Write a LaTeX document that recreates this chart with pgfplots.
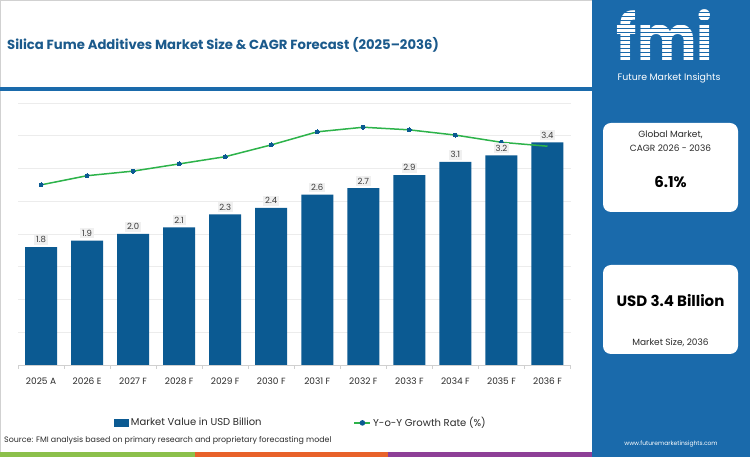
\documentclass[border=0pt]{standalone}
\usepackage{pgfplots}
\pgfplotsset{compat=1.18}
\usepackage{fontspec}
\setmainfont{Poppins}
\definecolor{barblue}{HTML}{0B5A92}
\definecolor{panelblue}{HTML}{1A6AAB}
\definecolor{titleblue}{HTML}{1B5A8C}
\definecolor{lgreen}{HTML}{2DB34A}
\definecolor{labelbg}{HTML}{F0F0F0}
\definecolor{labelgray}{HTML}{3A3A3A}
\definecolor{textgray}{HTML}{2B2B2B}
\definecolor{gridgray}{HTML}{ECECEC}
\definecolor{axisgray}{HTML}{D0D0D0}
\definecolor{sgreen}{HTML}{8CC04B}
\definecolor{sorange}{HTML}{E8622A}
\definecolor{spurple}{HTML}{8E3F97}
\pgfplotstableread{
x val grow
0 1.8 2.75
1 1.9 2.89
2 2.0 2.96
3 2.1 3.07
4 2.3 3.18
5 2.4 3.36
6 2.6 3.56
7 2.7 3.63
8 2.9 3.59
9 3.1 3.51
10 3.2 3.40
11 3.4 3.34
}\datatable
\begin{document}
\begin{tikzpicture}
\path[use as bounding box] (0,0) rectangle (750pt,457pt);
\fill[white] (0,0) rectangle (750pt,457pt);
\draw[black!18, line width=1pt] (0.5pt,0) -- (0.5pt,456.5pt) -- (592pt,456.5pt);
% right panel
\fill[panelblue] (592pt,0) rectangle (750pt,457pt);
% title rule
\fill[panelblue] (0,366pt) rectangle (592pt,369.5pt);
% title
\node[anchor=west, inner sep=0pt, text=titleblue, font=\fontsize{13.2}{15}\selectfont\bfseries] at (7pt,412pt) {Silica Fume Additives Market Size \& CAGR Forecast (2025–2036)};
% stripes
\fill[sgreen] (0,0) rectangle (195pt,5pt);
\fill[sorange] (195pt,0) rectangle (388pt,5pt);
\fill[spurple] (388pt,0) rectangle (592pt,5pt);
% source
\node[anchor=west, inner sep=0pt, text=textgray, font=\fontsize{7.9}{9}\selectfont] at (4pt,16pt) {Source: FMI analysis based on primary research and proprietary forecasting model};
% cards
\fill[white, rounded corners=8pt] (603pt,245pt) rectangle (738pt,334pt);
\fill[white, rounded corners=8pt] (603pt,103pt) rectangle (738pt,192pt);
\node[text=textgray, font=\fontsize{9}{10}\selectfont, inner sep=0pt] at (670.5pt,322pt) {Global Market,};
\node[text=textgray, font=\fontsize{9}{10}\selectfont, inner sep=0pt] at (670.5pt,309pt) {CAGR 2026 - 2036};
\node[text=black, font=\fontsize{15}{17}\selectfont\bfseries, inner sep=0pt] at (670.5pt,275pt) {6.1\%};
\node[text=black, font=\fontsize{15}{17}\selectfont\bfseries, inner sep=0pt] at (670.5pt,156pt) {USD 3.4 Billion};
\node[text=textgray, font=\fontsize{9}{10}\selectfont, inner sep=0pt] at (670.5pt,114pt) {Market Size, 2036};
% logo
\node[text=white, font=\fontsize{54}{56}\selectfont\bfseries, inner sep=0pt, anchor=base] at (665pt,395pt) {\scalebox{1.04}[1.2]{fmi}};
\foreach \yy in {397,401,...,449} {\draw[panelblue, line width=0.9pt] (612pt,\yy pt) -- (720pt,\yy pt);}
\node[text=white, font=\fontsize{9.4}{10}\selectfont, inner sep=0pt] at (669pt,379pt) {Future Market Insights};
\node[text=white, font=\fontsize{6}{7}\selectfont, inner sep=0pt] at (671pt,13pt) {www.futuremarketinsights.com};
\begin{axis}[
  at={(18pt,92pt)}, anchor=south west,
  scale only axis, width=552.5pt, height=262pt,
  xmin=-0.5, xmax=11.5, ymin=0, ymax=4,
  axis x line*=bottom, axis y line*=left,
  x axis line style={draw=axisgray, line width=0.8pt},
  y axis line style={draw=none},
  ytick={0.5,1,...,4}, yticklabels={}, ytick style={draw=none},
  ymajorgrids, grid style={gridgray, line width=0.6pt},
  xtick={0,...,11},
  xticklabels={2025 A,2026 E,2027 F,2028 F,2029 F,2030 F,2031 F,2032 F,2033 F,2034 F,2035 F,2036 F},
  major x tick style={draw=none},
  minor xtick={-0.5,0.5,...,11.5},
  minor x tick style={axisgray, line width=0.6pt},
  minor tick length=4pt, tick align=outside,
  xticklabel style={font=\fontsize{9}{10}\selectfont, text=textgray, yshift=-5pt},
  /pgf/number format/assume math mode=true,
  clip=false,
  legend style={at={(0.512,-0.221)}, anchor=center, draw=none, fill=none,
    legend columns=2, font=\fontsize{10}{11}\selectfont, text=textgray,
    /tikz/every even column/.append style={column sep=90pt},
    /tikz/every odd column/.append style={column sep=0pt}},
  legend cell align=left,
]
\addplot[ybar, bar width=32pt, bar shift=0pt, fill=barblue, draw=none,
  legend image code/.code={\fill[barblue] (0pt,-3.8pt) rectangle (15pt,3.8pt);}]
  table[x=x, y=val] {\datatable};
\addlegendentry{Market Value in USD Billion}
\addplot[lgreen, line width=1.5pt, mark=*, mark size=2pt, mark indices={1,...,11},
  mark options={fill=barblue, draw=barblue, line width=0pt},
  legend image code/.code={\draw[lgreen, line width=1.5pt] (0pt,0pt) -- (16pt,0pt); \fill[barblue] (8pt,0pt) circle (2pt);}]
  table[x=x, y=grow] {\datatable};
\addlegendentry{Y-o-Y Growth Rate (\%)}
\addplot[ybar, bar width=32pt, bar shift=0pt, draw=none, fill=none, forget plot,
  nodes near coords={\pgfmathprintnumber[fixed, fixed zerofill, precision=1]{\pgfplotspointmeta}},
  every node near coord/.append style={font=\fontsize{8.5}{9}\selectfont, text=labelgray, fill=labelbg, inner sep=1.8pt, yshift=2pt}]
  table[x=x, y=val] {\datatable};
\end{axis}
\end{tikzpicture}
\end{document}
